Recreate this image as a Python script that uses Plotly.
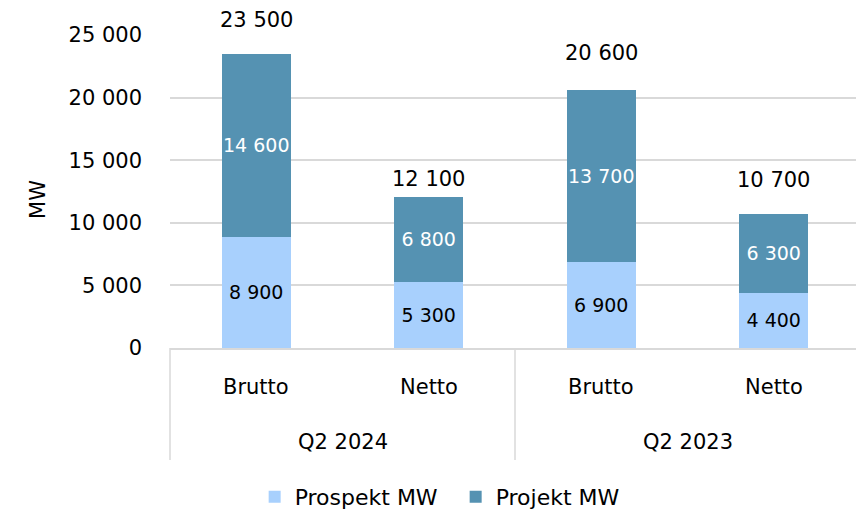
import plotly.graph_objects as go

periods = ["Q2 2024", "Q2 2024", "Q2 2023", "Q2 2023"]
kinds = ["Brutto", "Netto", "Brutto", "Netto"]
prospekt = [8900, 5300, 6900, 4400]
projekt = [14600, 6800, 13700, 6300]
totals = [23500, 12100, 20600, 10700]
yticks = [0, 5000, 10000, 15000, 20000, 25000]
group_names = ["Q2 2024", "Q2 2023"]


def fmt(v):
    return f"{v:,}".replace(",", " ")


FONT = "DejaVu Sans"
FS = 21
FS_IN = 19
PH = 313  # plot height in px
ids = [f"{p} {k}" for p, k in zip(periods, kinds)]
total_label_shift = [34, 18, 37, 34]  # pixel offsets of the total labels above each bar

fig = go.Figure()
fig.add_trace(go.Bar(
    x=ids, y=prospekt, name="Prospekt MW", marker_color="#A8D0FD", marker_line_width=0,
    text=[fmt(v) for v in prospekt], textposition="inside", insidetextanchor="middle",
    textangle=0, constraintext="none",
    textfont=dict(color="black", size=FS_IN, family=FONT), width=0.4,
))
fig.add_trace(go.Bar(
    x=ids, y=projekt, name="Projekt MW", marker_color="#5592B2", marker_line_width=0,
    text=[fmt(v) for v in projekt], textposition="inside", insidetextanchor="middle",
    textangle=0, constraintext="none",
    textfont=dict(color="white", size=FS_IN, family=FONT), width=0.4,
))

# totals above bars
for xi, t, sh in zip(ids, totals, total_label_shift):
    fig.add_annotation(x=xi, y=t, xref="x", yref="y", text=fmt(t), showarrow=False,
                       xanchor="center", yanchor="middle", yshift=sh,
                       font=dict(size=FS, family=FONT))

# category labels
for xi, k in zip(ids, kinds):
    fig.add_annotation(x=xi, y=-39 / PH, xref="x", yref="paper", text=k, showarrow=False,
                       xanchor="center", yanchor="middle", font=dict(size=FS, family=FONT))
for gi, g in enumerate(group_names):
    fig.add_annotation(x=(gi + 0.5) / len(group_names), y=-94 / PH, xref="paper", yref="paper",
                       text=g, showarrow=False, xanchor="center", yanchor="middle",
                       font=dict(size=FS, family=FONT))
for xp in [0, 0.5, 1]:
    fig.add_shape(type="line", xref="paper", yref="paper", x0=xp, x1=xp, y0=0, y1=-112 / PH,
                  line=dict(color="#D9D9D9", width=1.5))

fig.add_annotation(x=0, y=0.473, xref="paper", yref="paper", text="MW", textangle=-90,
                   showarrow=False, xanchor="center", yanchor="middle", xshift=-132,
                   font=dict(size=FS, family=FONT))

fig.update_layout(
    barmode="stack",
    width=856, height=506,
    margin=dict(l=162, r=4, t=27, b=166, autoexpand=False),
    paper_bgcolor="white", plot_bgcolor="white",
    font=dict(family=FONT, size=FS, color="black"),
    legend=dict(orientation="h", x=0.414, xanchor="center",
                y=-149 / PH, yanchor="middle", entrywidth=156,
                font=dict(size=22, family=FONT), traceorder="normal"),
    showlegend=True,
)
fig.update_yaxes(
    range=[0, 25000], tickvals=yticks, ticktext=[fmt(v) for v in yticks],
    gridcolor="#D9D9D9", gridwidth=1.5, zeroline=False, showline=False,
    ticks="", ticklabelstandoff=27, automargin=False, tickfont=dict(size=FS, family=FONT),
)
fig.update_xaxes(
    showline=True, linecolor="#D9D9D9", linewidth=1.5, showticklabels=False,
    ticks="", automargin=False, range=[-0.5, 3.5],
)

fig.write_html("out.html")
